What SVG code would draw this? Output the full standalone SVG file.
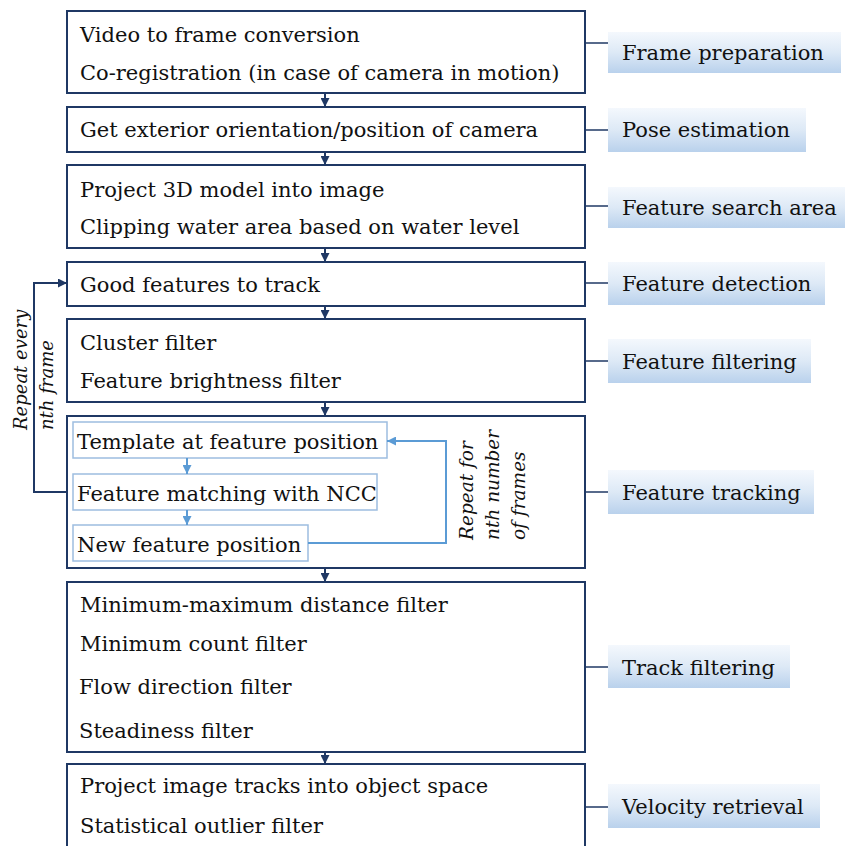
<svg xmlns="http://www.w3.org/2000/svg" width="846" height="846" viewBox="0 0 846 846">
<defs>
<linearGradient id="lg" x1="0" y1="0" x2="0" y2="1">
<stop offset="0" stop-color="#f4f8fd"/>
<stop offset="0.5" stop-color="#dde9f6"/>
<stop offset="1" stop-color="#b9d1ec"/>
</linearGradient>
<marker id="ad" viewBox="0 0 10 10" refX="10" refY="5" markerWidth="9" markerHeight="9" markerUnits="userSpaceOnUse" orient="auto">
<path d="M0,0 L10,5 L0,10 Z" fill="#1f3864"/>
</marker>
<marker id="al" viewBox="0 0 10 10" refX="10" refY="5" markerWidth="9" markerHeight="9" markerUnits="userSpaceOnUse" orient="auto">
<path d="M0,0 L10,5 L0,10 Z" fill="#5b9bd5"/>
</marker>
</defs>
<style>
.box{fill:#fff;stroke:#1f3864;stroke-width:2}
.ibox{fill:#fff;stroke:#9dbde0;stroke-width:1.5}
.lab{fill:url(#lg)}
.t{font-family:"DejaVu Serif","Liberation Serif",serif;font-size:21px;fill:#111}
.lt{font-family:"DejaVu Serif","Liberation Serif",serif;font-size:21px;fill:#111}
.it{font-family:"DejaVu Serif","Liberation Serif",serif;font-size:18px;font-style:italic;fill:#111}
.it2{font-family:"DejaVu Serif","Liberation Serif",serif;font-size:18.5px;font-style:italic;fill:#111}
.cd{stroke:#1f3864;stroke-width:2;fill:none}
.cl{stroke:#5b9bd5;stroke-width:2;fill:none}
.tick{stroke:#1f3864;stroke-width:1.5;fill:none}
</style>
<rect width="846" height="846" fill="#fff"/>

<g id="n1">
<rect class="box" x="67" y="11" width="518" height="82"/>
<text class="t" x="80" y="42">Video to frame conversion</text>
<text class="t" x="80" y="80">Co-registration (in case of camera in motion)</text>
</g>
<g id="n2">
<rect class="box" x="67" y="107" width="518" height="45"/>
<text class="t" x="80" y="137">Get exterior orientation/position of camera</text>
</g>
<g id="n3">
<rect class="box" x="67" y="165" width="518" height="83"/>
<text class="t" x="80" y="197">Project 3D model into image</text>
<text class="t" x="80" y="234">Clipping water area based on water level</text>
</g>
<g id="n4">
<rect class="box" x="67" y="262" width="518" height="44"/>
<text class="t" x="80" y="292">Good features to track</text>
</g>
<g id="n5">
<rect class="box" x="67" y="319" width="518" height="83"/>
<text class="t" x="80" y="350">Cluster filter</text>
<text class="t" x="80" y="388">Feature brightness filter</text>
</g>
<g id="n6">
<rect class="box" x="67" y="416" width="518" height="152"/>
</g>
<g id="n6a">
<rect class="ibox" x="73" y="422" width="314" height="36"/>
<text class="t" x="77" y="449">Template at feature position</text>
</g>
<g id="n6b">
<rect class="ibox" x="73" y="474" width="304" height="36"/>
<text class="t" x="77" y="501">Feature matching with NCC</text>
</g>
<g id="n6c">
<rect class="ibox" x="73" y="525" width="235" height="36"/>
<text class="t" x="77" y="552">New feature position</text>
</g>
<g id="n7">
<rect class="box" x="67" y="582" width="518" height="170"/>
<text class="t" x="80" y="612">Minimum-maximum distance filter</text>
<text class="t" x="80" y="651">Minimum count filter</text>
<text class="t" x="79" y="694">Flow direction filter</text>
<text class="t" x="79" y="738">Steadiness filter</text>
</g>
<g id="n8">
<rect class="box" x="67" y="764" width="518" height="100"/>
<text class="t" x="80" y="793">Project image tracks into object space</text>
<text class="t" x="80" y="833">Statistical outlier filter</text>
</g>

<g id="L1"><rect class="lab" x="608" y="32" width="233" height="41"/><text class="lt" x="622" y="60">Frame preparation</text></g>
<g id="L2"><rect class="lab" x="608" y="108" width="198" height="44"/><text class="lt" x="622" y="137">Pose estimation</text></g>
<g id="L3"><rect class="lab" x="608" y="187" width="237" height="41"/><text class="lt" x="622" y="215">Feature search area</text></g>
<g id="L4"><rect class="lab" x="608" y="262" width="217" height="43"/><text class="lt" x="622" y="291">Feature detection</text></g>
<g id="L5"><rect class="lab" x="608" y="339" width="203" height="44"/><text class="lt" x="622" y="369">Feature filtering</text></g>
<g id="L6"><rect class="lab" x="608" y="470" width="206" height="44"/><text class="lt" x="622" y="500">Feature tracking</text></g>
<g id="L7"><rect class="lab" x="608" y="645" width="182" height="43"/><text class="lt" x="622" y="675">Track filtering</text></g>
<g id="L8"><rect class="lab" x="608" y="784" width="212" height="44"/><text class="lt" x="622" y="814">Velocity retrieval</text></g>

<g id="connectors">
<line class="cd" x1="325" y1="93" x2="325" y2="107" marker-end="url(#ad)"/>
<line class="cd" x1="325" y1="152" x2="325" y2="165" marker-end="url(#ad)"/>
<line class="cd" x1="325" y1="248" x2="325" y2="262" marker-end="url(#ad)"/>
<line class="cd" x1="325" y1="306" x2="325" y2="319" marker-end="url(#ad)"/>
<line class="cd" x1="325" y1="402" x2="325" y2="416" marker-end="url(#ad)"/>
<line class="cd" x1="325" y1="568" x2="325" y2="582" marker-end="url(#ad)"/>
<line class="cd" x1="325" y1="752" x2="325" y2="764" marker-end="url(#ad)"/>
<polyline class="cd" points="67,492 34,492 34,283 67,283" marker-end="url(#ad)"/>
<line class="cl" x1="187" y1="458" x2="187" y2="474" marker-end="url(#al)"/>
<line class="cl" x1="187" y1="510" x2="187" y2="525" marker-end="url(#al)"/>
<polyline class="cl" points="308,543 446,543 446,441 387,441" marker-end="url(#al)"/>
<line class="tick" x1="585" y1="43" x2="608" y2="43"/>
<line class="tick" x1="585" y1="130" x2="608" y2="130"/>
<line class="tick" x1="585" y1="206" x2="608" y2="206"/>
<line class="tick" x1="585" y1="283" x2="608" y2="283"/>
<line class="tick" x1="585" y1="361" x2="608" y2="361"/>
<line class="tick" x1="585" y1="492" x2="608" y2="492"/>
<line class="tick" x1="585" y1="667" x2="608" y2="667"/>
<line class="tick" x1="585" y1="807" x2="608" y2="807"/>
</g>

<g id="loopLabelLeft">
<text class="it" transform="translate(27,430) rotate(-90)">Repeat every</text>
<text class="it" transform="translate(53,430) rotate(-90)">nth frame</text>
</g>
<g id="loopLabelRight">
<text class="it2" transform="translate(473,540) rotate(-90)">Repeat for</text>
<text class="it2" transform="translate(499,540) rotate(-90)">nth number</text>
<text class="it2" transform="translate(525,540) rotate(-90)">of frames</text>
</g>
</svg>
